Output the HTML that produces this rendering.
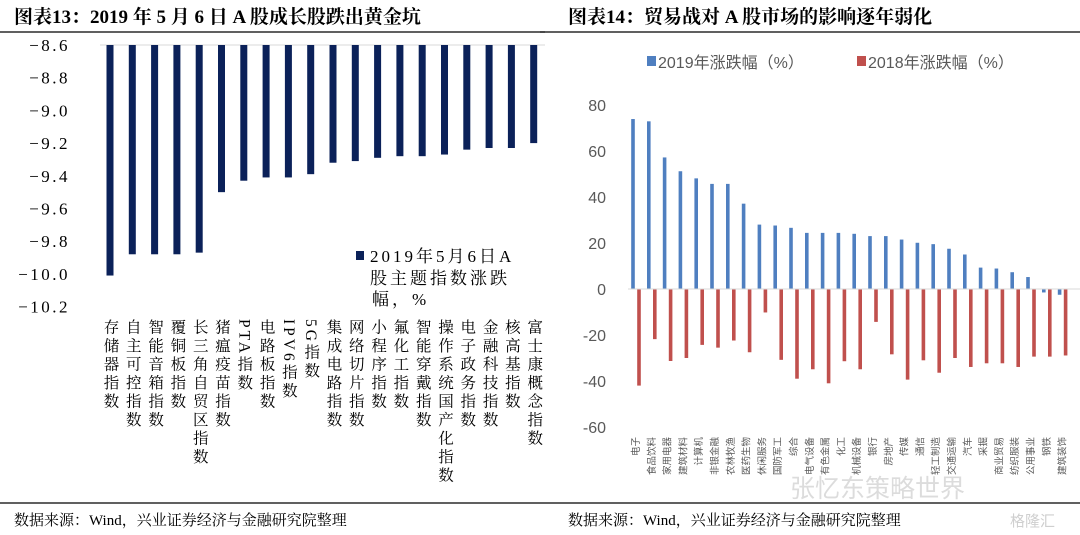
<!DOCTYPE html>
<html><head><meta charset="utf-8">
<style>
html,body{margin:0;padding:0;background:#fff;}
body{width:1080px;height:535px;overflow:hidden;position:relative;}
svg{position:absolute;left:0;top:0;}
.serif{font-family:"Liberation Serif","Noto Serif CJK SC",serif;}
.sans{font-family:"Liberation Sans","Noto Sans CJK SC",sans-serif;}
</style></head>
<body>
<svg id="chart" width="1080" height="535">
  <text class="serif" x="14" y="23" font-size="19" font-weight="bold" fill="#000">图表13：2019 年 5 月 6 日 A 股成长股跌出黄金坑</text>
  <line x1="0" y1="32" x2="545" y2="32" stroke="#000" stroke-width="1.2"/>
  <text class="serif" x="568" y="23" font-size="19" font-weight="bold" fill="#000">图表14：贸易战对 A 股市场的影响逐年弱化</text>
  <line x1="540" y1="32" x2="1080" y2="32" stroke="#000" stroke-width="1.2"/>
  <line x1="0" y1="503" x2="1080" y2="503" stroke="#000" stroke-width="1.2"/>
  <text class="serif" x="14" y="525" font-size="15" fill="#000">数据来源：Wind，兴业证券经济与金融研究院整理</text>
  <text class="serif" x="568" y="525" font-size="15" fill="#000">数据来源：Wind，兴业证券经济与金融研究院整理</text>
  <text class="sans" x="790" y="497" font-size="25" fill="#dcdcdc">张忆东策略世界</text>
  <text class="sans" x="1010" y="526" font-size="15" fill="#cfcfcf">格隆汇</text>
  <g id="left"></g>
  <g id="right"></g>
</svg>
<script>
const leftCats = ["存储器指数","自主可控指数","智能音箱指数","覆铜板指数","长三角自贸区指数","猪瘟疫苗指数","PTA指数","电路板指数","IPV6指数","5G指数","集成电路指数","网络切片指数","小程序指数","氟化工指数","智能穿戴指数","操作系统国产化指数","电子政务指数","金融科技指数","核高基指数","富士康概念指数"];
const leftVals = [-10.01,-9.88,-9.88,-9.88,-9.87,-9.50,-9.43,-9.41,-9.41,-9.39,-9.32,-9.31,-9.29,-9.28,-9.28,-9.27,-9.24,-9.23,-9.23,-9.20];
const leftTicks = ["-8.6","-8.8","-9.0","-9.2","-9.4","-9.6","-9.8","-10.0","-10.2"];

const rightCats = ["电子","食品饮料","家用电器","建筑材料","计算机","非银金融","农林牧渔","医药生物","休闲服务","国防军工","综合","电气设备","有色金属","化工","机械设备","银行","房地产","传媒","通信","轻工制造","交通运输","汽车","采掘","商业贸易","纺织服装","公用事业","钢铁","建筑装饰"];
const vals2019 = [73.9,72.9,57.2,51.2,48.1,45.7,45.7,37.1,28.0,27.6,26.6,24.4,24.4,24.4,24.0,23.0,23.0,21.5,20.1,19.5,17.5,15.0,9.3,8.9,7.3,5.2,-1.5,-2.5];
const vals2018 = [-42,-21.8,-31.3,-30,-24.3,-25.5,-22.4,-27.5,-10.2,-30.8,-39,-34.9,-41,-31.4,-34.9,-14.3,-28.4,-39.4,-31,-36.4,-30,-33.9,-32.3,-32.3,-33.9,-29.4,-29.4,-28.9];
const rightTicks = [80,60,40,20,0,-20,-40,-60];

const NS="http://www.w3.org/2000/svg";
function mk(parent,tag,attrs,text){const e=document.createElementNS(NS,tag);for(const k in attrs)e.setAttribute(k,attrs[k]);if(text!==undefined)e.textContent=text;parent.appendChild(e);return e;}

// Left chart
const L=document.getElementById('left');
const ly=v=>45+(-8.6-v)/0.2*32.7;
const lx=i=>110+i*22.3;
mk(L,'line',{x1:100,y1:45,x2:545,y2:45,stroke:'#d9d9d9','stroke-width':1});
leftTicks.forEach(t=>{
  const el=mk(L,'text',{x:70,y:ly(parseFloat(t))+6,'text-anchor':'end','font-size':17,'letter-spacing':'2.5',fill:'#000',class:'serif'},t.replace('-','−'));
  
  
});
leftVals.forEach((v,i)=>{
  const r=mk(L,'rect',{x:lx(i)-3.5,y:45,width:7,height:ly(v)-45,fill:'#0b2159'});
  
  
});
leftCats.forEach((c,i)=>{
  const t=mk(L,'text',{x:lx(i),y:319,'font-size':15.5,fill:'#000',class:'serif','writing-mode':'tb','glyph-orientation-vertical':0,'letter-spacing':'3'},c);
  
  
});
const lg=mk(L,'rect',{x:356,y:251,width:8,height:9,fill:'#0b2159'});


[["2019年5月6日A",370,262],["股主题指数涨跌",370,284],["幅，%",372,305]].forEach(a=>{
  const t=mk(L,'text',{x:a[1],y:a[2],'font-size':17,fill:'#000',class:'serif','letter-spacing':'3'},a[0]);
  
  
});

// Right chart
const R=document.getElementById('right');
const ry=v=>289-v/20*46;
const rx=i=>633+i*15.8;
rightTicks.forEach(t=>{
  const el=mk(R,'text',{x:606,y:ry(t)+6,'text-anchor':'end','font-size':16,fill:'#595959',class:'sans'},String(t));
  
  
});
vals2019.forEach((v,i)=>{
  const y0=ry(Math.max(v,0)),h=Math.abs(ry(v)-ry(0));
  const r=mk(R,'rect',{x:rx(i)-1.8,y:y0,width:3.6,height:h,fill:'#4f7fc0'});
  
  
});
vals2018.forEach((v,i)=>{
  const y0=ry(Math.max(v,0)),h=Math.abs(ry(v)-ry(0));
  const r=mk(R,'rect',{x:rx(i)+4.2,y:y0,width:3.6,height:h,fill:'#c0504d'});
  
  
});
mk(R,'line',{x1:628,y1:ry(0),x2:1080,y2:ry(0),stroke:'#d9d9d9','stroke-width':1});
rightCats.forEach((c,i)=>{
  const x=rx(i)+3;
  const t=mk(R,'text',{x:x,y:437,'font-size':9.5,fill:'#595959',class:'sans','text-anchor':'end',transform:`rotate(-90 ${x} 437)`,dy:'3'},c);
  
  
});
const s1=mk(R,'rect',{x:647,y:56,width:9,height:10,fill:'#4f7fc0'});


const t1=mk(R,'text',{x:658,y:68,'font-size':16,fill:'#595959',class:'sans'},'2019年涨跌幅（%）');


const s2=mk(R,'rect',{x:857,y:56,width:9,height:10,fill:'#c0504d'});


const t2=mk(R,'text',{x:868,y:68,'font-size':16,fill:'#595959',class:'sans'},'2018年涨跌幅（%）');


</script>
</body></html>
